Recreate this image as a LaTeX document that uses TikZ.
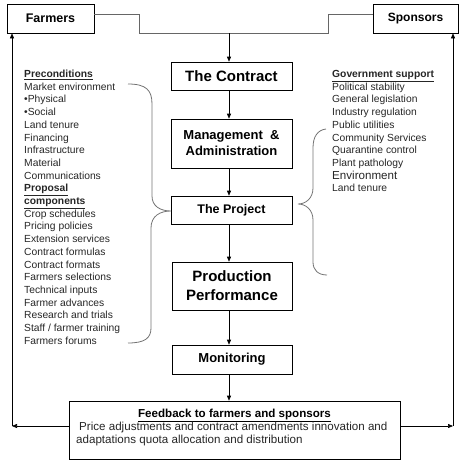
\documentclass[tikz,border=0pt]{standalone}
\usepackage{fontspec}
\setmainfont{Liberation Sans}
\usetikzlibrary{arrows.meta,shadows}
\begin{document}
\begin{tikzpicture}[x=1pt,y=-1pt,
  box/.style={draw=black,line width=0.6pt,fill=white,inner sep=0pt,align=center,
    drop shadow={shadow xshift=1.2pt,shadow yshift=-1.2pt,fill=black!40,opacity=0.6}},
  arr/.style={-{Triangle[length=5pt,width=4pt]},line width=0.6pt,black},
  conn/.style={line width=0.8pt,black!60},
  brace/.style={line width=0.8pt,black!55},
  listtxt/.style={anchor=base west,inner sep=0pt,text=black!85,font=\fontsize{10.3}{12}\selectfont},
  fbtxt/.style={anchor=base west,inner sep=0pt,text=black!85,font=\fontsize{11.6}{14}\selectfont}]
\useasboundingbox (0,0) rectangle (461,466);

% boxes
\node[box,minimum width=87pt,minimum height=29pt,font=\fontsize{12.5}{14}\selectfont\bfseries] (farmers) at (50.5,18.5) {Farmers};
\node[box,minimum width=85pt,minimum height=29pt,font=\fontsize{12}{14}\selectfont\bfseries] (sponsors) at (415.5,18.5) {Sponsors};
\node[box,minimum width=121pt,minimum height=28pt,font=\fontsize{15}{17}\selectfont\bfseries] (contract) at (231.5,76) {The Contract};
\node[box,minimum width=121pt,minimum height=49pt,font=\fontsize{13}{16}\selectfont\bfseries] (mgmt) at (231.5,143.5) {Management \ \&\\Administration};
\node[box,minimum width=121pt,minimum height=28pt,font=\fontsize{12.5}{14}\selectfont\bfseries] (project) at (231.5,210) {The Project};
\node[box,minimum width=120pt,minimum height=48pt,font=\fontsize{15}{19}\selectfont\bfseries] (prod) at (232,286) {Production\\Performance};
\node[box,minimum width=120pt,minimum height=29pt,font=\fontsize{13}{15}\selectfont\bfseries] (monitor) at (232,359.5) {Monitoring};
\node[box,minimum width=331pt,minimum height=58pt] (fb) at (234.5,430) {};

% feedback texts
\node[anchor=base,inner sep=0pt,font=\fontsize{11.6}{14}\selectfont\bfseries] (fbtitle) at (234.5,417) {\underline{Feedback to farmers and sponsors}};
\node[fbtxt] (fb1) at (79,430) {Price adjustments and contract amendments innovation and};
\node[fbtxt] (fb2) at (76,443.5) {adaptations quota allocation and distribution};

% left list
\foreach [count=\i] \t in {{\textbf{\underline{Preconditions}}},Market environment,{•Physical},{•Social},Land tenure,Financing,Infrastructure,Material,Communications,{\textbf{\underline{Proposal}}},{\textbf{\underline{components}}},Crop schedules,Pricing policies,Extension services,Contract formulas,Contract formats,Farmers selections,Technical inputs,Farmer advances,Research and trials,Staff / farmer training,Farmers forums}
  \node[listtxt,name=l\i] at (24,77.5+12.7*\i-12.7) {\t};

% right list
\foreach [count=\i] \t in {{\textbf{\underline{Government support}}},Political stability,General legislation,Industry regulation,Public utilities,Community Services,Quarantine control,Plant pathology}
  \node[listtxt,name=r\i] at (332,77.5+12.7*\i-12.7) {\t};
\node[listtxt,font=\fontsize{11.6}{13}\selectfont,name=r9] at (332,179) {Environment};
\node[listtxt,name=r10] at (332,191.5) {Land tenure};

% top connectors
\coordinate (ax) at (229,0);
\coordinate (j) at (229,33);
\coordinate (fk) at (139,14);
\coordinate (sk) at (328,14);
\draw[conn] ([yshift=4.5pt]farmers.east) -- (fk) |- (j);
\draw[conn] ([yshift=4.5pt]sponsors.west) -- (sk) |- (j);
\draw[arr] (j) -- (contract.north -| ax);

% main chain
\draw[arr] (contract.south -| ax) -- (mgmt.north -| ax);
\draw[arr] (mgmt.south -| ax) -- (project.north -| ax);
\draw[arr] (project.south -| ax) -- (prod.north -| ax);
\draw[arr] (prod.south -| ax) -- (monitor.north -| ax);
\draw[arr] (monitor.south -| ax) -- (fb.north -| ax);

% feedback loops
\coordinate (cl) at (12,426);
\coordinate (cr) at (453,426);
\draw[arr] ([yshift=4pt]fb.west) -- (cl);
\draw[arr] (cl) -- (farmers.south -| cl);
\draw[arr] ([yshift=4pt]fb.east) -- (cr);
\draw[arr] (cr) -- (sponsors.south -| cr);

% left brace
\coordinate (lt) at (171,211);
\draw[brace] (128,84) .. controls (146,84) and (152,90) .. (152,104) -- (152,196)
  .. controls (152,206) and (160,211) .. (lt)
  .. controls (160,211) and (151,216) .. (151,228) -- (151,328)
  .. controls (151,338) and (145,343) .. (128,343);
% right brace
\coordinate (rt) at (298,204);
\draw[brace] (326,129) .. controls (318,130) and (313,136) .. (313,148) -- (313,188)
  .. controls (313,198) and (306,204) .. (rt)
  .. controls (306,204) and (313,210) .. (313,220) -- (313,262)
  .. controls (313,270) and (318,275) .. (327,275);
\end{tikzpicture}
\end{document}
